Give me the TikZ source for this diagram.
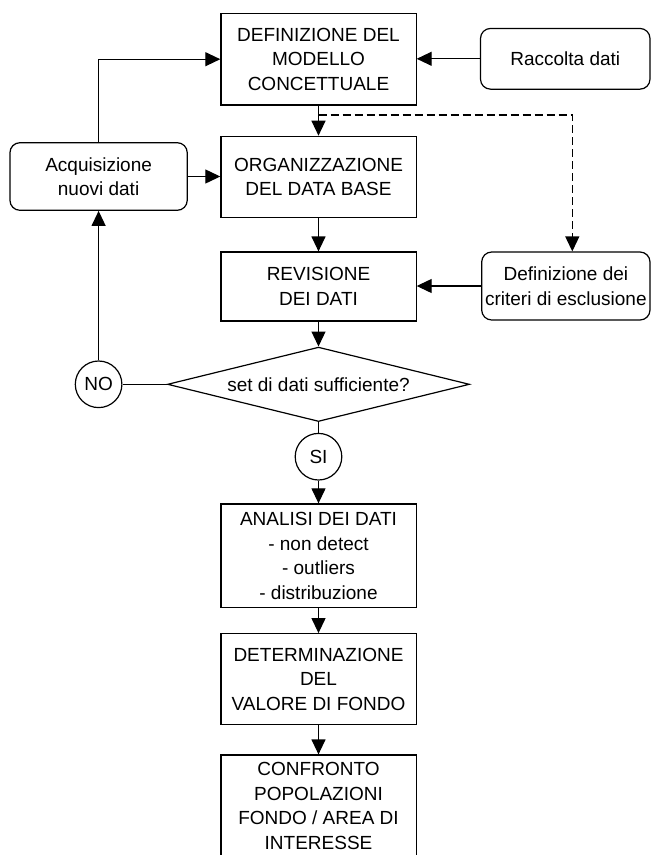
\documentclass[tikz,border=0pt]{standalone}
\usepackage{fontspec}
\setmainfont{Liberation Sans}
\usetikzlibrary{arrows.meta,shapes.geometric}
\begin{document}
\begin{tikzpicture}[x=1pt,y=-1pt,
  font=\fontsize{19}{24.5}\selectfont,
  line width=1.2pt,
  box/.style={draw,minimum width=195.2pt,align=center,inner sep=0pt},
  rbox/.style={draw,rounded corners=10pt,align=center,inner sep=0pt},
  dec/.style={draw,diamond,shape aspect=4.06,minimum width=302pt,minimum height=74.4pt,inner sep=0pt},
  lab/.style={draw,circle,minimum size=46.6pt,inner sep=0pt},
  arr/.style={-{Triangle[length=15pt,width=14pt]}},
  dsh/.style={dash pattern=on 8pt off 4pt}]
\clip (0,0) rectangle (651,855);
\node[box,minimum height=91.7pt] (b1) at (318.5,59.2) {DEFINIZIONE DEL\\MODELLO\\CONCETTUALE};
\node[box,minimum height=81.4pt] (b2) at (318.5,177) {ORGANIZZAZIONE\\DEL DATA BASE};
\node[box,minimum height=69pt] (b3) at (318.5,286.5) {REVISIONE\\DEI DATI};
\node[box,minimum height=103.7pt] (b4) at (318.5,555.8) {ANALISI DEI DATI\\- non detect\\- outliers\\- distribuzione};
\node[box,minimum height=91pt] (b5) at (318.5,679.2) {DETERMINAZIONE\\DEL\\VALORE DI FONDO};
\node[box,minimum height=102pt] (b6) at (318.5,806) {CONFRONTO\\POPOLAZIONI\\FONDO / AREA DI\\INTERESSE};
\node[rbox,minimum width=169.5pt,minimum height=60.7pt] (racc) at (565.25,58.8) {Raccolta dati};
\node[rbox,minimum width=177.3pt,minimum height=67.6pt] (acq) at (98.6,176.5) {Acquisizione\\nuovi dati};
\node[rbox,minimum width=168.3pt,minimum height=68pt] (crit) at (565.85,286) {Definizione dei\\criteri di esclusione};
\node[dec] (dia) at (318.5,384.3) {set di dati sufficiente?};
\node[lab] (no) at (98.6,384.3) {NO};
\node[lab] (si) at (318.5,456.7) {SI};
\coordinate (dstart) at (318.5,115);
\coordinate (dturn) at (572.3,115);
\draw[arr] (b1.south) -- (b2.north);
\draw[arr] (racc.west) -- (racc.west -| b1.east);
\draw[arr] (acq.east) -- (acq.east -| b2.west);
\draw[arr] (acq.north) |- (b1.west);
\draw[arr] (b2.south) -- (b3.north);
\draw[arr,dsh] (dstart) -- (dturn) -- (dturn |- crit.north);
\draw[arr] (crit.west) -- (crit.west -| b3.east);
\draw[arr] (b3.south) -- (dia.north);
\draw (dia.west) -- (no.east);
\draw[arr] (no.north) -- (acq.south);
\draw (dia.south) -- (si.north);
\draw[arr] (si.south) -- (b4.north);
\draw[arr] (b4.south) -- (b5.north);
\draw[arr] (b5.south) -- (b6.north);
\end{tikzpicture}
\end{document}
